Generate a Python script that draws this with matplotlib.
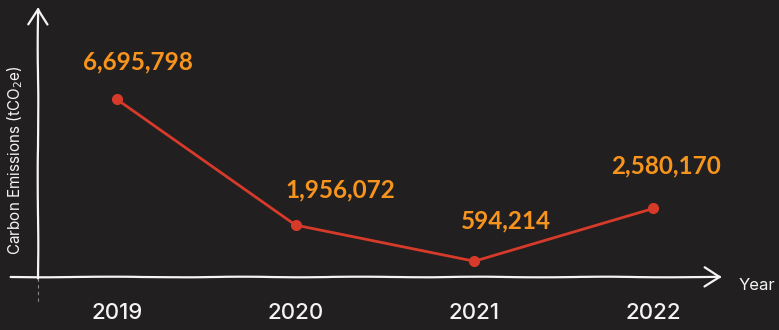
import matplotlib
matplotlib.use('Agg')
import matplotlib.pyplot as plt

years = ["2019", "2020", "2021", "2022"]
emissions = [6695798, 1956072, 594214, 2580170]
value_labels = ["6,695,798", "1,956,072", "594,214", "2,580,170"]

BG = "#211f1f"
RED = "#d63a2a"
ORANGE = "#f7941d"
WHITE = "#f4f4f4"

plt.rcParams['font.family'] = ['Inter', 'DejaVu Sans']

fig = plt.figure(figsize=(7.79, 3.3), dpi=100, facecolor=BG)
ax = fig.add_axes([38 / 779, 1 - 277 / 330, 684 / 779, 270 / 330])
ax.set_facecolor(BG)
ax.patch.set_alpha(0)

x = list(range(len(years)))
ax.plot(x, emissions, color=RED, lw=2, marker='o', ms=7, zorder=3)

# value labels (offsets in points, tuned to the reference layout)
offsets = [(15, 27), (32, 25), (23, 29), (9, 31)]
for xi, v, lab, off in zip(x, emissions, value_labels, offsets):
    ax.annotate(lab, (xi, v), xytext=off, textcoords='offset points',
                ha='center', va='center', color=ORANGE, fontsize=17.5,
                fontweight='bold', family=['Lato', 'DejaVu Sans'])

ax.set_xlim(-0.44, 3.385)
ax.set_ylim(0, 10.17e6)
for s in ax.spines.values():
    s.set_visible(False)
ax.set_yticks([])
ax.set_xticks(x)
ax.set_xticklabels(years, color=WHITE, fontsize=16, fontweight='medium')
ax.tick_params(axis='x', length=0, pad=19)

# hand-drawn style axes with arrows
arrow_kw = dict(arrowstyle='->,head_length=1.1,head_width=0.7', color=WHITE,
                lw=1.6, shrinkA=0, shrinkB=0)
xa = ax.annotate('', xy=(1.0, 0), xytext=(-0.04, 0), xycoords='axes fraction',
                 arrowprops=arrow_kw, annotation_clip=False)
ya = ax.annotate('', xy=(0, 1.0), xytext=(0, -0.005), xycoords='axes fraction',
                 arrowprops=arrow_kw, annotation_clip=False)
for a in (xa, ya):
    a.arrow_patch.set_sketch_params(scale=0.3, length=200, randomness=5)
# faint dashed extension of the y axis below the x axis
ax.plot([0, 0], [-0.003, -0.1], transform=ax.transAxes, color=WHITE,
        lw=0.8, ls=(0, (3, 3)), alpha=0.5, clip_on=False)

fig.text(15 / 779, 1 - 160 / 330, "Carbon Emissions (tCO$_2$e)", rotation=90,
         ha='center', va='center', color=WHITE, fontsize=11)
fig.text(757 / 779, 1 - 286 / 330, "Year", ha='center', va='center',
         color=WHITE, fontsize=12)

fig.savefig("out.png", dpi=100, facecolor=BG)
plt.close(fig)
